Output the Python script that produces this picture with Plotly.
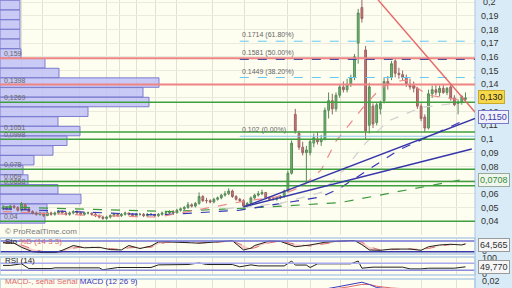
import plotly.graph_objects as go

# ---------------- candles ----------------
opens = [
 0.049,0.050,0.049,0.051,0.050,0.048,0.052,0.049,0.047,0.046,
 0.045,0.046,0.044,0.046,0.045,0.046,0.047,0.046,0.045,0.046,
 0.047,0.046,0.045,0.046,0.046,0.045,0.044,0.043,0.042,0.043,
 0.044,0.045,0.044,0.045,0.046,0.045,0.044,0.045,0.045,0.044,
 0.045,0.045,0.044,0.045,0.046,0.046,0.047,0.046,0.048,0.049,
 0.050,0.052,0.051,0.053,0.058,0.055,0.055,0.054,0.056,0.057,
 0.059,0.060,0.062,0.058,0.056,0.055,0.051,0.053,0.057,0.059,
 0.060,0.061,0.057,0.056,0.056,0.057,0.058,0.062,0.075,0.118,
 0.104,0.094,0.090,0.090,0.097,0.100,0.098,0.100,0.121,0.128,
 0.122,0.132,0.138,0.136,0.140,0.145,0.170,0.196,0.165,0.110,
 0.124,0.112,0.122,0.128,0.142,0.145,0.157,0.148,0.147,0.145,
 0.140,0.139,0.137,0.124,0.116,0.108,0.133,0.136,0.134,0.137,
 0.134,0.138,0.130,0.126,0.127,0.129]
highs = [
 0.052,0.051,0.052,0.052,0.051,0.054,0.053,0.050,0.048,0.047,
 0.047,0.046,0.047,0.047,0.047,0.048,0.048,0.047,0.047,0.048,
 0.048,0.047,0.047,0.047,0.046,0.046,0.045,0.044,0.044,0.045,
 0.046,0.046,0.046,0.047,0.046,0.046,0.046,0.046,0.046,0.046,
 0.046,0.045,0.046,0.047,0.047,0.048,0.048,0.049,0.050,0.051,
 0.054,0.053,0.054,0.061,0.059,0.057,0.056,0.057,0.058,0.060,
 0.062,0.064,0.063,0.059,0.057,0.056,0.054,0.058,0.060,0.062,
 0.063,0.061,0.058,0.058,0.058,0.059,0.063,0.077,0.099,0.122,
 0.106,0.098,0.095,0.100,0.104,0.105,0.103,0.123,0.134,0.133,
 0.134,0.140,0.142,0.144,0.147,0.162,0.195,0.214,0.168,0.141,
 0.126,0.127,0.128,0.145,0.146,0.157,0.159,0.152,0.150,0.147,
 0.144,0.142,0.138,0.126,0.118,0.136,0.139,0.140,0.139,0.140,
 0.138,0.140,0.132,0.129,0.132,0.134]
lows = [
 0.048,0.048,0.048,0.049,0.047,0.047,0.048,0.046,0.045,0.044,
 0.044,0.043,0.044,0.044,0.044,0.045,0.045,0.044,0.044,0.045,
 0.045,0.044,0.044,0.045,0.044,0.043,0.042,0.041,0.041,0.042,
 0.043,0.043,0.043,0.044,0.044,0.043,0.043,0.044,0.043,0.043,
 0.044,0.043,0.043,0.044,0.045,0.045,0.045,0.046,0.047,0.048,
 0.049,0.050,0.050,0.052,0.054,0.053,0.053,0.053,0.055,0.056,
 0.058,0.059,0.057,0.055,0.054,0.050,0.050,0.052,0.056,0.058,
 0.059,0.056,0.055,0.055,0.055,0.056,0.057,0.061,0.074,0.104,
 0.092,0.088,0.068,0.088,0.094,0.096,0.095,0.099,0.115,0.118,
 0.120,0.130,0.134,0.134,0.138,0.143,0.155,0.185,0.100,0.104,
 0.108,0.110,0.118,0.126,0.136,0.143,0.145,0.144,0.143,0.138,
 0.136,0.134,0.122,0.113,0.105,0.107,0.130,0.132,0.131,0.133,
 0.132,0.128,0.124,0.118,0.125,0.128]
closes = [
 0.050,0.049,0.051,0.050,0.048,0.053,0.049,0.047,0.046,0.045,
 0.046,0.044,0.046,0.045,0.046,0.047,0.046,0.045,0.046,0.047,
 0.046,0.045,0.046,0.046,0.045,0.044,0.043,0.042,0.043,0.044,
 0.045,0.044,0.045,0.046,0.045,0.044,0.045,0.045,0.044,0.045,
 0.045,0.044,0.045,0.046,0.046,0.047,0.046,0.048,0.049,0.050,
 0.052,0.051,0.053,0.058,0.055,0.055,0.054,0.056,0.057,0.059,
 0.060,0.062,0.058,0.056,0.055,0.051,0.053,0.057,0.059,0.060,
 0.061,0.057,0.056,0.056,0.057,0.058,0.062,0.075,0.097,0.106,
 0.094,0.090,0.092,0.098,0.101,0.098,0.100,0.121,0.128,0.122,
 0.132,0.138,0.136,0.140,0.145,0.160,0.192,0.188,0.106,0.138,
 0.111,0.125,0.126,0.142,0.140,0.155,0.148,0.147,0.145,0.140,
 0.138,0.137,0.124,0.115,0.108,0.133,0.136,0.134,0.137,0.134,
 0.137,0.130,0.125,0.127,0.131,0.130]
bars = list(range(len(closes)))

# ---------------- moving averages (read points) ----------------
ma_red_x = [0, 26, 42, 56, 65, 74, 81, 86, 90, 97, 102, 106, 109, 111, 115, 125]
ma_red = [0.047, 0.044, 0.043, 0.050, 0.0545, 0.0577, 0.0657, 0.0774, 0.0985, 0.122,
          0.137, 0.142, 0.143, 0.139, 0.132, 0.128]
ma_grey_x = [60, 75, 86, 92, 98, 104, 113, 125]
ma_grey = [0.049, 0.053, 0.061, 0.077, 0.097, 0.113, 0.123, 0.127]
ma_blue_x = [0, 26, 42, 64, 86, 91, 107, 125]
ma_blue = [0.049, 0.046, 0.0445, 0.048, 0.0577, 0.064, 0.092, 0.114]
ma_green_x = [0, 26, 45, 67, 91, 107, 125]
ma_green = [0.0505, 0.0485, 0.047, 0.0497, 0.0535, 0.0617, 0.0708]

# ---------------- volume profile ----------------
vp_levels = [0.1978, 0.1907, 0.1836, 0.1766, 0.1695, 0.1624, 0.1553, 0.1482, 0.1412,
             0.1341, 0.1270, 0.1199, 0.1128, 0.1058, 0.0987, 0.0916, 0.0845, 0.0774,
             0.0704, 0.0633, 0.0562, 0.0491, 0.0420]
vp_volume = [20, 20, 20, 20, 20, 21, 45, 59, 159, 143, 149, 88, 58, 80, 67, 53, 34,
             23, 28, 58, 81, 47, 45]

# ---------------- levels ----------------
red_levels = [0.159, 0.1398]
green_levels = [0.1269, 0.1051, 0.0998, 0.078, 0.069, 0.0658, 0.04]
level_labels = ["0,159", "0,1398", "0,1269", "0,1051", "0,0998", "0,078", "0,069", "0,0658", "0,04"]
level_values = [0.159, 0.1398, 0.1269, 0.1051, 0.0998, 0.078, 0.069, 0.0658, 0.04]
fib_levels = [0.1714, 0.1581, 0.1449, 0.102]
fib_labels = ["0.1714 (61.80%)", "0.1581 (50.00%)", "0.1449 (38.20%)", "0.102 (0.00%)"]
fib_start = 64

# trend lines (bar index, price)
blue_line1 = [(65, 0.0504), (127.6, 0.115)]
blue_line2 = [(65, 0.0504), (126.7, 0.0927)]
red_line = [(101.4, 0.2015), (127.6, 0.1195)]

ytick_vals = [0.04, 0.05, 0.06, 0.07, 0.08, 0.09, 0.10, 0.11, 0.12, 0.13, 0.14, 0.15,
              0.16, 0.17, 0.18, 0.19, 0.20]
# 0,07 and 0,13 sit under the price tags, as in the reference
ytick_text = ["0,04", "0,05", "0,06", "", "0,08", "0,09", "0,1", "0,11", "0,12", "",
              "0,14", "0,15", "0,16", "0,17", "0,18", "0,19", ""]
grid_bars = [5.1, 10.8, 20.8, 28.1, 31.6, 36.2, 41.1, 47, 56.5, 65.4, 76.8, 83, 91.1,
             102.4, 113.2, 122.7]

# ---------------- indicators ----------------
stoch_x = [0, 3, 5, 8, 11, 14, 16, 19, 22, 26, 29, 32, 34, 37, 40, 42, 44, 47, 51, 53, 57,
           60, 62, 65, 67, 68, 72, 75, 79, 83, 87, 91, 95, 97, 99, 102, 105, 110, 113,
           115, 118, 121, 124, 125]
stoch_k = [70, 68, 45, 20, 15, 15, 28, 55, 42, 45, 32, 30, 55, 38, 52, 75, 76, 75, 70, 68,
           75, 80, 82, 30, 40, 55, 80, 78, 48, 58, 73, 80, 83, 60, 30, 28, 35, 35, 28, 48,
           58, 62, 58, 64.565]
stoch_d = [72, 70, 58, 35, 20, 15, 20, 40, 48, 44, 38, 32, 42, 45, 45, 62, 72, 76, 72, 70,
           72, 78, 80, 55, 38, 42, 70, 80, 62, 52, 65, 77, 82, 75, 48, 30, 32, 36, 32, 38,
           52, 60, 60, 62]
rsi_x = [0, 2, 5, 7, 13, 14, 26, 27, 31, 40, 42, 46, 50, 53, 55, 62, 64, 67, 69, 76, 77,
         78, 79, 82, 83, 85, 94, 96, 97, 100, 108, 110, 113, 115, 122, 125]
rsi = [58, 58, 67, 40, 40, 44, 44, 33, 46, 46, 61, 61, 63, 72, 63, 63, 50, 61, 55, 55, 70,
       83, 60, 60, 46, 67, 67, 83, 42, 48, 48, 38, 38, 42, 42, 49.77]
macd_x = [0, 20, 40, 60, 75, 80, 85, 88, 90, 93, 95, 97, 99, 101, 105, 110, 115, 120, 125]
macd = [0.0, -0.001, 0.0, 0.002, 0.003, 0.006, 0.010, 0.013, 0.016, 0.021, 0.025, 0.027,
        0.022, 0.015, 0.011, 0.009, 0.006, 0.004, 0.003]
macd_signal = [0.0, 0.0, 0.0, 0.001, 0.002, 0.004, 0.007, 0.010, 0.012, 0.016, 0.019,
               0.022, 0.022, 0.018, 0.014, 0.011, 0.008, 0.006, 0.004]

# ---------------- geometry helpers ----------------
PW = 475 / 512.0
def py(px):
    return 1 - px / 288.0

XR = [-0.81, 127.57]
PX_PER_BAR = 3.7
FONT = "Liberation Sans, Arial, sans-serif"

fig = go.Figure()

# volume profile
fig.add_trace(go.Bar(orientation="h", y=vp_levels, x=[v / PX_PER_BAR for v in vp_volume],
                     base=XR[0], width=0.0069,
                     marker=dict(color="rgba(190,190,246,0.82)",
                                 line=dict(color="rgba(120,120,205,0.95)", width=1)),
                     xaxis="x", yaxis="y", showlegend=False, hoverinfo="skip"))

# candles
fig.add_trace(go.Candlestick(x=bars, open=opens, high=highs, low=lows, close=closes,
                             increasing=dict(line=dict(color="#5a8a5a", width=1), fillcolor="#66bb66"),
                             decreasing=dict(line=dict(color="#9a6464", width=1), fillcolor="#d47272"),
                             whiskerwidth=0, xaxis="x", yaxis="y", showlegend=False))

def ma(xs, ys, color, dash="dash", width=1.2):
    fig.add_trace(go.Scatter(x=xs, y=ys, mode="lines", line=dict(color=color, dash=dash, width=width),
                             xaxis="x", yaxis="y", showlegend=False, hoverinfo="skip"))

ma(ma_green_x, ma_green, "#3c9a3c")
ma(ma_blue_x, ma_blue, "#3535b5")
ma(ma_grey_x, ma_grey, "#cfcfcf")
ma(ma_red_x, ma_red, "#ec8a8a")

shapes = []
# right strip
shapes.append(dict(type="rect", xref="paper", yref="paper", x0=PW, x1=1, y0=0, y1=1,
                   fillcolor="#d8ebf6", line=dict(width=0), layer="below"))
shapes.append(dict(type="line", xref="paper", yref="paper", x0=PW, x1=PW, y0=0, y1=1,
                   line=dict(color="#a9c7e0", width=1)))
for lv in green_levels:
    shapes.append(dict(type="line", xref="paper", yref="y", x0=0, x1=PW, y0=lv, y1=lv,
                       line=dict(color="#3f9f3f", width=1.5)))
for lv in red_levels:
    shapes.append(dict(type="line", xref="paper", yref="y", x0=0, x1=PW, y0=lv, y1=lv,
                       line=dict(color="#ee8484", width=2)))
fib_styles = [("#66c8f5", "dash"), ("#34479a", "dash"), ("#66c8f5", "dash"), ("#8ccaee", "solid")]
for lv, (c, d) in zip(fib_levels, fib_styles):
    shapes.append(dict(type="line", xref="x", yref="y", x0=fib_start, x1=XR[1], y0=lv, y1=lv,
                       line=dict(color=c, width=1, dash=d)))
for (a, b), c in [(blue_line1, "#3636aa"), (blue_line2, "#3636aa"), (red_line, "#e46a6a")]:
    shapes.append(dict(type="line", xref="x", yref="y", x0=a[0], y0=a[1], x1=b[0], y1=b[1],
                       line=dict(color=c, width=1.4)))

# sub panels: stochastic (y2), RSI (y3), MACD (y4)
fig.add_trace(go.Scatter(x=stoch_x, y=stoch_d, mode="lines", line=dict(color="#e07070", width=1, dash="dash"),
                         xaxis="x2", yaxis="y2", showlegend=False, hoverinfo="skip"))
fig.add_trace(go.Scatter(x=stoch_x, y=stoch_k, mode="lines", line=dict(color="#222222", width=1),
                         fill="tonexty", fillcolor="rgba(240,150,150,0.45)",
                         xaxis="x2", yaxis="y2", showlegend=False, hoverinfo="skip"))
fig.add_trace(go.Scatter(x=rsi_x, y=rsi, mode="lines", line=dict(color="#222222", width=1),
                         xaxis="x3", yaxis="y3", showlegend=False, hoverinfo="skip"))
fig.add_trace(go.Scatter(x=macd_x, y=macd_signal, mode="lines", line=dict(color="#e06a6a", width=1),
                         xaxis="x4", yaxis="y4", showlegend=False, hoverinfo="skip"))
fig.add_trace(go.Scatter(x=macd_x, y=macd, mode="lines", line=dict(color="#3a3ac0", width=1),
                         xaxis="x4", yaxis="y4", showlegend=False, hoverinfo="skip"))

for yr, lv, c in [("y2", 80, "#7272d8"), ("y2", 20, "#3838a8"), ("y3", 70, "#aaaaf0"), ("y3", 30, "#8a8ae0")]:
    shapes.append(dict(type="line", xref="paper", yref=yr, x0=0, x1=PW, y0=lv, y1=lv,
                       line=dict(color=c, width=1.5)))
for top, bot in [(238, 254), (257, 275), (279, 300)]:
    shapes.append(dict(type="rect", xref="paper", yref="paper", x0=0, x1=PW, y0=py(bot), y1=py(top),
                       line=dict(color="#b3cde6", width=1.5), fillcolor="rgba(0,0,0,0)"))

annotations = []
for lab, lv in zip(level_labels, level_values):
    annotations.append(dict(x=0.004, xref="paper", y=lv, yref="y", text=lab, showarrow=False,
                            xanchor="left", yanchor="bottom", yshift=-1,
                            font=dict(size=7, color="#666666", family=FONT)))
for lab, lv in zip(fib_labels, fib_levels):
    annotations.append(dict(x=fib_start, xref="x", y=lv, yref="y", text=lab, showarrow=False,
                            xanchor="left", yanchor="bottom", yshift=0,
                            font=dict(size=7, color="#666666", family=FONT)))

def tag(ypx, text, bg, fg, border):
    annotations.append(dict(x=PW + 0.006, xref="paper", y=py(ypx), yref="paper", text=text,
                            showarrow=False, xanchor="left", yanchor="middle", bgcolor=bg,
                            bordercolor=border, borderwidth=1, borderpad=1,
                            font=dict(size=9, color=fg, family=FONT)))

def plain(xpx, ypx, text, color="#333333", size=9, anchor="left", yanchor="middle"):
    annotations.append(dict(x=xpx / 512.0, xref="paper", y=py(ypx), yref="paper", text=text,
                            showarrow=False, xanchor=anchor, yanchor=yanchor,
                            font=dict(size=size, color=color, family=FONT)))

tag(97, "0,130", "#f7d84a", "#222222", "#c9a92a")
tag(117, "0,1150", "#f1f1fb", "#3a3aa8", "#7a7ac8")
tag(180, "0,0708", "#eef6ee", "#3a8a3a", "#9aaa9a")
plain(481, 2, "0,2")
plain(480, 251, "0")
tag(245, "64,565", "#f6f6f6", "#333333", "#9a9a9a")
plain(480, 258, "100")
plain(480, 274, "0")
tag(267, "49,770", "#f6f6f6", "#333333", "#9a9a9a")
plain(480, 288, "0,02", yanchor="bottom")
plain(3, 231, "© ProRealTime.com", "#7a7a7a", 8)
plain(3, 241, "<span style='color:#222'>Sto</span> <span style='color:#e06a6a'>%D (14 3 3)</span>", size=8)
plain(3, 260, "RSI (14)", "#222222", 8)
plain(3, 288, "<span style='color:#e06a6a'>MACD-, señal Señal</span> <span style='color:#3a3ac0'>MACD (12 26 9)</span>",
      size=8, yanchor="bottom")

xbase = dict(range=XR, domain=[0, PW], tickvals=grid_bars, showticklabels=False, ticks="",
             showgrid=True, gridcolor="#e2e2d2", gridwidth=1, zeroline=False, showline=False,
             fixedrange=True)
fig.update_layout(
    width=512, height=288, margin=dict(l=0, r=0, t=0, b=0),
    paper_bgcolor="#fdfdf3", plot_bgcolor="#fdfdf0",
    showlegend=False, hovermode=False, barmode="overlay",
    xaxis=dict(xbase, anchor="y", rangeslider=dict(visible=False)),
    yaxis=dict(domain=[py(235), 1], range=[0.0299, 0.2015], side="right", anchor="x",
               tickvals=ytick_vals, ticktext=ytick_text, ticks="", ticklabelstandoff=5,
               showgrid=True, gridcolor="#ebebdd", zeroline=False,
               tickfont=dict(size=9, color="#333333", family=FONT)),
    xaxis2=dict(xbase, anchor="y2"),
    yaxis2=dict(domain=[py(254), py(238)], range=[7.3, 97.2], anchor="x2", showticklabels=False,
                showgrid=False, zeroline=False),
    xaxis3=dict(xbase, anchor="y3"),
    yaxis3=dict(domain=[py(275), py(257)], range=[3.1, 106], anchor="x3", showticklabels=False,
                showgrid=False, zeroline=False),
    xaxis4=dict(xbase, anchor="y4"),
    yaxis4=dict(domain=[0, py(280)], range=[0.014, 0.032], anchor="x4", showticklabels=False,
                showgrid=False, zeroline=False),
    shapes=shapes, annotations=annotations,
)

fig.write_html("out.html")
